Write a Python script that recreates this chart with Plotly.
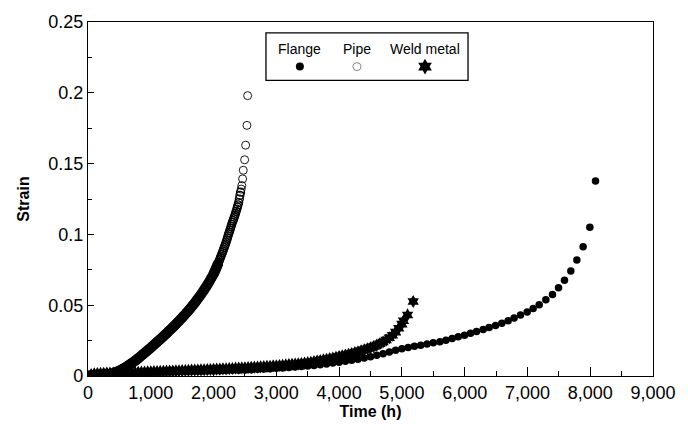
import plotly.graph_objects as go

# ---------------- data ----------------
pipe_time = [0, 50, 100, 150, 200, 250, 300, 350, 400,
             420, 440, 460, 480, 500, 520, 540, 560, 580, 600,
             620, 640, 660, 680, 700, 720, 740, 760, 780, 800,
             820, 840, 860, 880, 900, 920, 940, 960, 980, 1000,
             1020, 1040, 1060, 1080, 1100, 1120, 1140, 1160, 1180, 1200,
             1220, 1240, 1260, 1280, 1300, 1320, 1340, 1360, 1380, 1400,
             1420, 1440, 1460, 1480, 1500, 1520, 1540, 1560, 1580, 1600,
             1620, 1640, 1660, 1680, 1700, 1720, 1740, 1760, 1780, 1800,
             1820, 1840, 1860, 1880, 1900, 1920, 1940, 1960, 1980, 2000,
             2010, 2020, 2030, 2040, 2050, 2060, 2070, 2080, 2090, 2100,
             2110, 2120, 2130, 2140, 2150, 2160, 2170, 2180, 2190, 2200,
             2210, 2220, 2230, 2240, 2250, 2260, 2270, 2280, 2290, 2300,
             2310, 2320, 2330, 2340, 2350, 2360, 2370, 2380, 2390, 2400,
             2410, 2420, 2430, 2440, 2450, 2463, 2473, 2495, 2511, 2532, 2543]
pipe_strain = [0.0000, 0.0002, 0.0003, 0.0004, 0.0006, 0.0008, 0.0011, 0.0015, 0.0020,
               0.0023, 0.0027, 0.0030, 0.0034, 0.0038, 0.0043, 0.0047, 0.0052, 0.0057, 0.0062,
               0.0068, 0.0074, 0.0080, 0.0086, 0.0092, 0.0098, 0.0105, 0.0111, 0.0118, 0.0125,
               0.0132, 0.0140, 0.0147, 0.0155, 0.0162, 0.0170, 0.0177, 0.0185, 0.0192, 0.0200,
               0.0208, 0.0216, 0.0224, 0.0232, 0.0240, 0.0248, 0.0256, 0.0264, 0.0272, 0.0280,
               0.0288, 0.0297, 0.0305, 0.0314, 0.0322, 0.0331, 0.0340, 0.0348, 0.0357, 0.0366,
               0.0375, 0.0384, 0.0394, 0.0403, 0.0412, 0.0422, 0.0432, 0.0442, 0.0452, 0.0462,
               0.0473, 0.0483, 0.0494, 0.0505, 0.0516, 0.0528, 0.0540, 0.0552, 0.0564, 0.0576,
               0.0589, 0.0602, 0.0616, 0.0629, 0.0643, 0.0658, 0.0673, 0.0689, 0.0704, 0.0720,
               0.0730, 0.0740, 0.0750, 0.0760, 0.0771, 0.0781, 0.0792, 0.0803, 0.0814, 0.0825,
               0.0836, 0.0847, 0.0859, 0.0871, 0.0883, 0.0895, 0.0907, 0.0919, 0.0932, 0.0945,
               0.0959, 0.0973, 0.0988, 0.1002, 0.1015, 0.1029, 0.1043, 0.1057, 0.1071, 0.1085,
               0.1097, 0.1109, 0.1122, 0.1135, 0.1149, 0.1163, 0.1178, 0.1193, 0.1209, 0.1225,
               0.1250, 0.1276, 0.1298, 0.1320, 0.1345, 0.1392, 0.1453, 0.1527, 0.1630, 0.1770, 0.1980]

flange_time = [0, 100, 200, 300, 400, 500, 600, 700, 800, 900,
               1000, 1100, 1200, 1300, 1400, 1500, 1600, 1700, 1800, 1900,
               2000, 2100, 2200, 2300, 2400, 2500, 2600, 2700, 2800, 2900,
               3000, 3100, 3200, 3300, 3400, 3500, 3600, 3700, 3800, 3900,
               4000, 4100, 4200, 4300, 4400, 4500, 4600, 4700, 4800, 4900,
               5000, 5100, 5200, 5300, 5400, 5500, 5605, 5701, 5801, 5897,
               5998, 6094, 6189, 6295, 6390, 6492, 6592, 6693, 6788, 6890,
               6996, 7091, 7187, 7293, 7399, 7495, 7590, 7691, 7787, 7887,
               7994, 8084]
flange_strain = [0.0000, 0.0012, 0.0016, 0.0018, 0.0020, 0.0021, 0.0022, 0.0023, 0.0024, 0.0025,
                 0.0026, 0.0027, 0.0028, 0.0029, 0.0030, 0.0031, 0.0032, 0.0033, 0.0034, 0.0035,
                 0.0036, 0.0037, 0.0038, 0.0040, 0.0041, 0.0043, 0.0045, 0.0047, 0.0049, 0.0051,
                 0.0054, 0.0057, 0.0060, 0.0063, 0.0067, 0.0071, 0.0075, 0.0080, 0.0085, 0.0091,
                 0.0097, 0.0104, 0.0111, 0.0119, 0.0127, 0.0136, 0.0146, 0.0157, 0.0169, 0.0182,
                 0.0192, 0.0201, 0.0210, 0.0218, 0.0226, 0.0234, 0.0242, 0.0253, 0.0265, 0.0277,
                 0.0288, 0.0302, 0.0314, 0.0328, 0.0342, 0.0356, 0.0372, 0.0391, 0.0410, 0.0431,
                 0.0452, 0.0477, 0.0503, 0.0538, 0.0575, 0.0624, 0.0677, 0.0742, 0.0819, 0.0913,
                 0.1050, 0.1378]

weld_time = [0, 50, 100, 150, 200, 250, 300, 350, 400, 450,
             500, 550, 600, 650, 700, 750, 800, 850, 900, 950,
             1000, 1050, 1100, 1150, 1200, 1250, 1300, 1350, 1400, 1450,
             1500, 1550, 1600, 1650, 1700, 1750, 1800, 1850, 1900, 1950,
             2000, 2050, 2100, 2150, 2200, 2250, 2300, 2350, 2400, 2450,
             2500, 2550, 2600, 2650, 2700, 2750, 2800, 2850, 2900, 2950,
             3000, 3050, 3100, 3150, 3200, 3250, 3300, 3350, 3400, 3450,
             3500, 3550, 3600, 3650, 3700, 3750, 3800, 3850, 3900, 3950,
             4000, 4050, 4100, 4150, 4200, 4250, 4300, 4350, 4400, 4450,
             4500, 4550, 4600, 4650, 4700, 4750, 4800, 4850, 4900, 4950,
             5000, 5025, 5090, 5180]
weld_strain = [0.0000, 0.0010, 0.0015, 0.0017, 0.0018, 0.0019, 0.0020, 0.0021, 0.0021, 0.0022,
               0.0022, 0.0023, 0.0024, 0.0024, 0.0025, 0.0026, 0.0026, 0.0027, 0.0028, 0.0029,
               0.0030, 0.0031, 0.0031, 0.0032, 0.0033, 0.0034, 0.0035, 0.0035, 0.0036, 0.0037,
               0.0038, 0.0039, 0.0040, 0.0041, 0.0042, 0.0042, 0.0043, 0.0044, 0.0045, 0.0046,
               0.0047, 0.0048, 0.0049, 0.0050, 0.0051, 0.0052, 0.0053, 0.0055, 0.0056, 0.0057,
               0.0058, 0.0059, 0.0061, 0.0062, 0.0063, 0.0065, 0.0066, 0.0068, 0.0069, 0.0071,
               0.0072, 0.0074, 0.0076, 0.0078, 0.0080, 0.0082, 0.0084, 0.0086, 0.0088, 0.0091,
               0.0094, 0.0097, 0.0101, 0.0105, 0.0109, 0.0114, 0.0118, 0.0123, 0.0127, 0.0132,
               0.0137, 0.0142, 0.0148, 0.0153, 0.0159, 0.0165, 0.0171, 0.0178, 0.0185, 0.0192,
               0.0199, 0.0208, 0.0218, 0.0228, 0.0240, 0.0254, 0.0270, 0.0288, 0.0310, 0.0337,
               0.0366, 0.0390, 0.0431, 0.0526]

legend_names = ["Flange", "Pipe", "Weld metal"]

x_ticks = [0, 1000, 2000, 3000, 4000, 5000, 6000, 7000, 8000, 9000]
y_ticks = [0, 0.05, 0.1, 0.15, 0.2, 0.25]
y_tick_text = ["0", "0.05", "0.1", "0.15", "0.2", "0.25"]

# ---------------- figure ----------------
FONT = "Liberation Sans, Arial, sans-serif"
fig = go.Figure()

fig.add_trace(go.Scatter(x=flange_time, y=flange_strain, mode="markers",
                         marker=dict(symbol="circle", size=7.5, color="black"),
                         name=legend_names[0], showlegend=False))
fig.add_trace(go.Scatter(x=weld_time, y=weld_strain, mode="markers",
                         marker=dict(symbol="hexagram", size=10, color="black",
                                     line=dict(width=0)),
                         name=legend_names[2], showlegend=False))
# open circles: dense part drawn with heavier outline (merges into a solid band)
pipe_line_w = [2.4 if s < 0.08 else (1.2 if s < 0.13 else 0.9) for s in pipe_strain]
fig.add_trace(go.Scatter(x=pipe_time, y=pipe_strain, mode="markers",
                         marker=dict(symbol="circle-open", size=8, color="black",
                                     line=dict(width=pipe_line_w, color="black")),
                         name=legend_names[1], showlegend=False))

# custom legend (text above marker, boxed)
leg_x = [0.375, 0.476, 0.5965]
leg_text_y = 0.924
leg_mark_y = 0.874
leg_symbols = ["circle", "circle-open", "hexagram"]
leg_sizes = [8, 8, 12]
leg_colors = ["black", "#666666", "black"]
for lx, sym, sz, col in zip(leg_x, leg_symbols, leg_sizes, leg_colors):
    fig.add_trace(go.Scatter(x=[lx], y=[leg_mark_y], mode="markers",
                             xaxis="x2", yaxis="y2", showlegend=False, hoverinfo="skip",
                             marker=dict(symbol=sym, size=sz, color=col,
                                         line=dict(width=0.8 if sym == "circle-open" else 0,
                                                   color=col))))
for name, lx in zip(legend_names, leg_x):
    fig.add_annotation(x=lx, y=leg_text_y, xref="paper", yref="paper", text=name,
                       showarrow=False, font=dict(family=FONT, size=14, color="black"),
                       xanchor="center", yanchor="middle")
fig.add_shape(type="rect", xref="paper", yref="paper", x0=0.315, x1=0.6726,
              y0=0.835, y1=0.969, line=dict(color="black", width=1.3),
              fillcolor="rgba(0,0,0,0)")

fig.update_layout(
    width=688, height=430,
    margin=dict(l=88, r=35, t=18, b=54),
    paper_bgcolor="white", plot_bgcolor="white",
    font=dict(family=FONT, size=18, color="black"),
    showlegend=False,
    xaxis=dict(range=[0, 9000], tickvals=x_ticks, tickformat=",d",
               showgrid=False, zeroline=False,
               showline=True, linecolor="black", linewidth=1.3, mirror=True,
               ticks="inside", ticklen=9, tickwidth=1.2, tickcolor="black",
               minor=dict(dtick=500, ticks="inside", ticklen=5, tickwidth=1, tickcolor="black"),
               tickfont=dict(family=FONT, size=18),
               title=dict(text="<b>Time (h)</b>", font=dict(family=FONT, size=16), standoff=4)),
    yaxis=dict(range=[0, 0.25], tickvals=y_ticks, ticktext=y_tick_text,
               showgrid=False, zeroline=False,
               showline=True, linecolor="black", linewidth=1.3, mirror=True,
               ticks="inside", ticklen=6, tickwidth=1.2, tickcolor="black",
               minor=dict(dtick=0.025, ticks="inside", ticklen=4, tickwidth=1, tickcolor="black"),
               tickfont=dict(family=FONT, size=18),
               title=dict(text="<b>Strain</b>", font=dict(family=FONT, size=16), standoff=14)),
    xaxis2=dict(range=[0, 1], domain=[0, 1], anchor="y2", overlaying="x", visible=False),
    yaxis2=dict(range=[0, 1], domain=[0, 1], anchor="x2", overlaying="y", visible=False),
)

fig.write_html("out.html")
